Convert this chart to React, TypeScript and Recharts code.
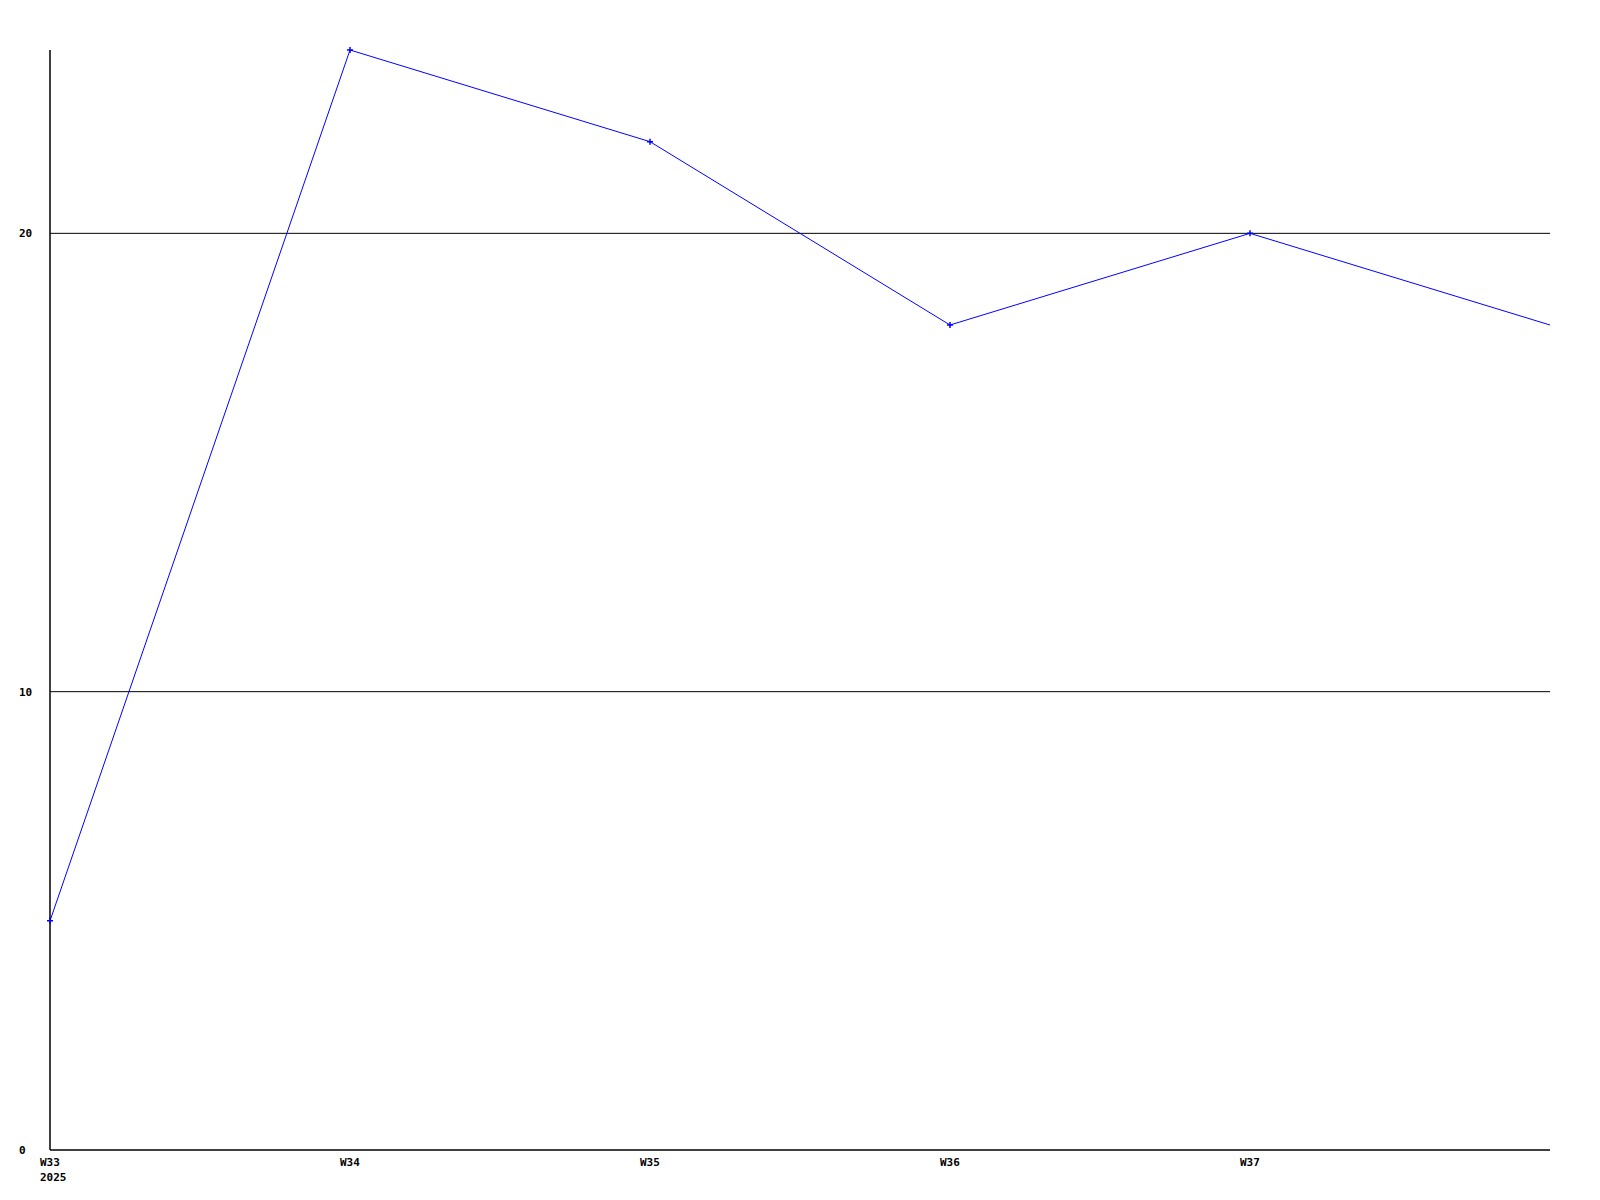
import { LineChart, Line, XAxis, YAxis, CartesianGrid } from 'recharts';

const weeks = ['W33', 'W34', 'W35', 'W36', 'W37', 'W38'];
const tickLabels = ['W33', 'W34', 'W35', 'W36', 'W37', ''];
const values = [5, 24, 22, 18, 20, 18];
const yTicks = [0, 10, 20];
const yearLabel = '2025';

const data = weeks.map((week, i) => ({ week, value: values[i] }));

const FONT = '"DejaVu Sans Mono", monospace';

function XTick(props: any) {
  const { x, y, index } = props;
  const label = tickLabels[index] ?? '';
  return (
    <g>
      <text x={x - 10} y={y + 8} fontFamily={FONT} fontSize={11} fontWeight="bold" fill="#000" textAnchor="start">
        {label}
      </text>
      {index === 0 && (
        <text x={x - 10} y={y + 23} fontFamily={FONT} fontSize={11} fontWeight="bold" fill="#000" textAnchor="start">
          {yearLabel}
        </text>
      )}
    </g>
  );
}

function YTick(props: any) {
  const { y, payload } = props;
  return (
    <text x={19} y={y + 4} fontFamily={FONT} fontSize={11} fontWeight="bold" fill="#000" textAnchor="start">
      {payload.value}
    </text>
  );
}

function PlusDot(props: any) {
  const { cx, cy, index } = props;
  if (index === values.length - 1) return <g key={`d-${index}`} />;
  return (
    <path
      key={`d-${index}`}
      d={`M${cx - 3},${cy}H${cx + 3}M${cx},${cy - 3}V${cy + 3}`}
      stroke="#0000ff"
      strokeWidth={1.5}
      fill="none"
    />
  );
}

export default function App() {
  return (
    <div style={{ position: 'absolute', left: 0, top: 0, width: 1600, height: 1200, background: '#fff' }}>
      <LineChart width={1600} height={1200} data={data} margin={{ top: 50, right: 50, bottom: 0, left: 0 }}>
        <CartesianGrid vertical={false} stroke="#000" strokeWidth={1} horizontalValues={[10, 20]} />
        <XAxis
          dataKey="week"
          height={50}
          padding={{ left: 0, right: 0 }}
          interval={0}
          tickLine={false}
          axisLine={{ stroke: '#000', strokeWidth: 1.5 }}
          tick={<XTick />}
        />
        <YAxis
          width={50}
          domain={[0, 24]}
          ticks={yTicks}
          tickLine={false}
          axisLine={{ stroke: '#000', strokeWidth: 1.5 }}
          tick={<YTick />}
        />
        <Line
          type="linear"
          dataKey="value"
          stroke="#0000ff"
          strokeWidth={1}
          dot={<PlusDot />}
          activeDot={false}
          isAnimationActive={false}
        />
      </LineChart>
    </div>
  );
}
